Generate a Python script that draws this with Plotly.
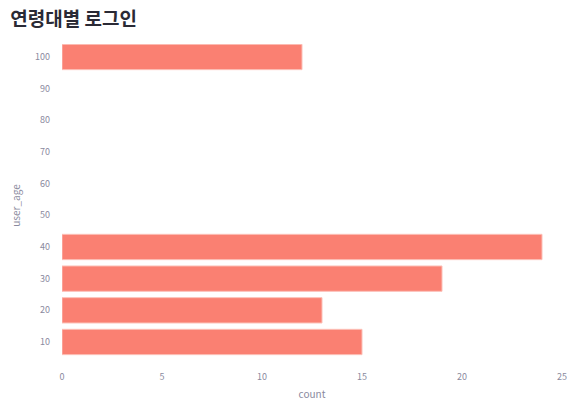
import plotly.graph_objects as go

ages = [10, 20, 30, 40, 100]
counts = [15, 13, 19, 24, 12]
y_ticks = [10, 20, 30, 40, 50, 60, 70, 80, 90, 100]
x_ticks = [0, 5, 10, 15, 20, 25]

fig = go.Figure(go.Bar(
    x=counts, y=ages, orientation="h", width=8,
    marker=dict(color="#FA8072", line=dict(color="#FCC0B8", width=1)),
))
font = "Noto Sans CJK KR, Noto Sans, sans-serif"
fig.update_layout(
    width=575, height=402,
    margin=dict(l=54, r=21, t=36, b=43, autoexpand=False),
    plot_bgcolor="white", paper_bgcolor="white",
    font=dict(family=font, color="#8a8a9e", size=9),
    title=dict(text="<b>연령대별 로그인</b>", x=0.004, xanchor="left", y=0.972, yanchor="middle",
               font=dict(size=19, color="#2a2a35", family=font)),
    showlegend=False,
    xaxis=dict(range=[0, 25], tickvals=x_ticks, showgrid=False, zeroline=False, showline=False,
               automargin=False, ticklabelstandoff=3,
               title=dict(text="count", font=dict(size=10), standoff=8), ticks=""),
    yaxis=dict(range=[2.1, 104.1], tickvals=y_ticks, showgrid=False, zeroline=False, showline=False,
               automargin=False,
               title=dict(text="user_age", font=dict(size=10), standoff=24), ticks="", ticklabelstandoff=11),
)
fig.write_html("out.html")
